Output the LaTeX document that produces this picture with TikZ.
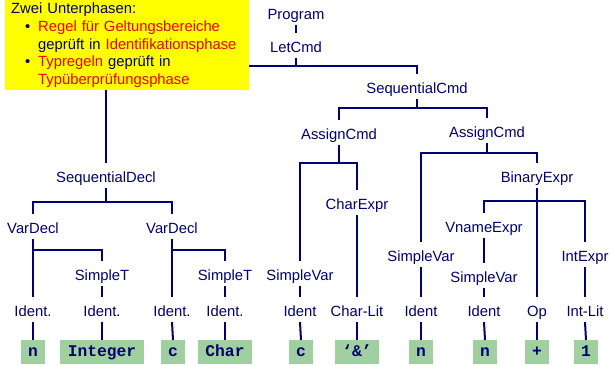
\documentclass[tikz,border=0pt]{standalone}
\usepackage{fontspec}
\setmainfont{Liberation Sans}
\setmonofont{Liberation Mono}
\usepackage{tikz}

\definecolor{treeblue}{RGB}{0,0,110}
\definecolor{leafgreen}{RGB}{160,208,160}
\definecolor{notered}{RGB}{235,0,0}
\definecolor{noteyellow}{RGB}{255,255,0}

\begin{document}
\begin{tikzpicture}[x=1pt, y=-1pt,
    lbl/.style={anchor=base, text=treeblue, font=\fontsize{14.8}{17.7}\selectfont,
        text height=14pt, text depth=1pt, inner xsep=2pt, inner ysep=5pt},
    leaf/.style={anchor=north, fill=leafgreen, text=treeblue,
        font=\fontsize{16.3}{18}\selectfont\ttfamily\bfseries,
        minimum height=24pt, minimum width=24pt, inner xsep=7.5pt, inner ysep=0pt,
        text height=10pt, text depth=2pt},
    edge/.style={draw=treeblue, line width=2pt},
    note/.style={anchor=north west, fill=noteyellow, text=treeblue, align=left,
        text width=232pt, inner xsep=6pt, inner ysep=2.7pt,
        font=\fontsize{14.8}{17.7}\selectfont}]
    \useasboundingbox (0,0) rectangle (610,364);

    % Top of the tree
    \node[lbl] (program) at (296,19) {Program};
    \node[lbl] (letcmd) at (296,52) {LetCmd};

    % Declarations (left subtree)
    \node[lbl] (seqdecl) at (106,182) {SequentialDecl};
    \node[lbl] (vardeclA) at (33,233) {VarDecl};
    \node[lbl] (vardeclB) at (172,233) {VarDecl};
    \node[lbl] (simpleTA) at (102,280) {SimpleT};
    \node[lbl] (simpleTB) at (225,280) {SimpleT};
    \node[lbl] (identA) at (33,316) {Ident.};
    \node[lbl] (identB) at (102,316) {Ident.};
    \node[lbl] (identC) at (172,316) {Ident.};
    \node[lbl] (identD) at (225,316) {Ident.};

    % Commands (right subtree)
    \node[lbl] (seqcmd) at (417,93) {SequentialCmd};
    \node[lbl] (assignA) at (339,139) {AssignCmd};
    \node[lbl] (assignB) at (487,137) {AssignCmd};
    \node[lbl] (simplevarA) at (300,280) {SimpleVar};
    \node[lbl] (identE) at (300,316) {Ident};
    \node[lbl] (charexpr) at (357,209) {CharExpr};
    \node[lbl] (charlit) at (357,316) {Char-Lit};
    \node[lbl] (simplevarB) at (421,261) {SimpleVar};
    \node[lbl] (identF) at (421,316) {Ident};
    \node[lbl] (binexpr) at (537,182) {BinaryExpr};
    \node[lbl] (vnameexpr) at (484,232) {VnameExpr};
    \node[lbl] (simplevarC) at (484,282) {SimpleVar};
    \node[lbl] (identG) at (484,316) {Ident};
    \node[lbl] (op) at (537,316) {Op};
    \node[lbl] (intexpr) at (585,261) {IntExpr};
    \node[lbl] (intlit) at (585,316) {Int-Lit};

    % Terminal symbols
    \node[leaf] (leafA) at (33,340) {n};
    \node[leaf] (leafB) at (102,340) {Integer};
    \node[leaf] (leafC) at (173,340) {c};
    \node[leaf] (leafD) at (225,340) {Char};
    \node[leaf] (leafE) at (301,340) {c};
    \node[leaf] (leafF) at (357,340) {‘\&’};
    \node[leaf] (leafG) at (421,340) {n};
    \node[leaf] (leafH) at (485,340) {n};
    \node[leaf] (leafI) at (537,340) {+};
    \node[leaf] (leafJ) at (586,340) {1};

    % Bar heights
    \coordinate (letbar) at (0,66);
    \coordinate (declbar) at (0,202);
    \coordinate (typebar) at (0,250);
    \coordinate (cmdbar) at (0,108);
    \coordinate (assignbarA) at (0,163);
    \coordinate (assignbarB) at (0,153);
    \coordinate (exprbar) at (0,201);

    % Edges at the top
    \draw[edge] (program.south) -- (letcmd.north);
    \draw[edge] (letcmd.south) -- (letcmd.south |- letbar) -| (seqdecl.north);
    \draw[edge] (letcmd.south |- letbar) -| (seqcmd.north);

    % Edges of the declarations
    \draw[edge] (seqdecl.south) -- (seqdecl.south |- declbar) -| (vardeclA.north);
    \draw[edge] (seqdecl.south |- declbar) -| (vardeclB.north);
    \draw[edge] (vardeclA.south) -- (identA.north);
    \draw[edge] (vardeclA.south |- typebar) -| (simpleTA.north);
    \draw[edge] (simpleTA.south) -- (identB.north);
    \draw[edge] (vardeclB.south) -- (identC.north);
    \draw[edge] (vardeclB.south |- typebar) -| (simpleTB.north);
    \draw[edge] (simpleTB.south) -- (identD.north);

    % Edges of the commands
    \draw[edge] (seqcmd.south) -- (seqcmd.south |- cmdbar) -| (assignA.north);
    \draw[edge] (seqcmd.south |- cmdbar) -| (assignB.north);
    \draw[edge] (assignA.south) -- (assignA.south |- assignbarA) -| (simplevarA.north);
    \draw[edge] (assignA.south |- assignbarA) -| (charexpr.north);
    \draw[edge] (simplevarA.south) -- (identE.north);
    \draw[edge] (charexpr.south) -- (charlit.north);
    \draw[edge] (assignB.south) -- (assignB.south |- assignbarB) -| (simplevarB.north);
    \draw[edge] (assignB.south |- assignbarB) -| (binexpr.north);
    \draw[edge] (simplevarB.south) -- (identF.north);
    \draw[edge] (binexpr.south) -- (op.north);
    \draw[edge] (binexpr.south |- exprbar) -| (vnameexpr.north);
    \draw[edge] (binexpr.south |- exprbar) -| (intexpr.north);
    \draw[edge] (vnameexpr.south) -- (simplevarC.north);
    \draw[edge] (simplevarC.south) -- (identG.north);
    \draw[edge] (intexpr.south) -- (intlit.north);

    % Edges down to the terminals
    \draw[edge] (identA.south) -- (leafA.north);
    \draw[edge] (identB.south) -- (leafB.north);
    \draw[edge] (identC.south) -- (leafC.north);
    \draw[edge] (identD.south) -- (leafD.north);
    \draw[edge] (identE.south) -- (leafE.north);
    \draw[edge] (charlit.south) -- (leafF.north);
    \draw[edge] (identF.south) -- (leafG.north);
    \draw[edge] (identG.south) -- (leafH.north);
    \draw[edge] (op.south) -- (leafI.north);
    \draw[edge] (intlit.south) -- (leafJ.north);

    % Yellow note on top
    \node[note] (notebox) at (5,0) {Zwei Unterphasen:\\
        \hspace*{14pt}\makebox[13pt][l]{\textbullet}\textcolor{notered}{Regel für Geltungsbereiche}\\
        \hspace*{27pt}geprüft in \textcolor{notered}{Identifikationsphase}\\
        \hspace*{14pt}\makebox[13pt][l]{\textbullet}\textcolor{notered}{Typregeln} geprüft in\\
        \hspace*{27pt}\textcolor{notered}{Typüberprüfungsphase}};
\end{tikzpicture}
\end{document}
